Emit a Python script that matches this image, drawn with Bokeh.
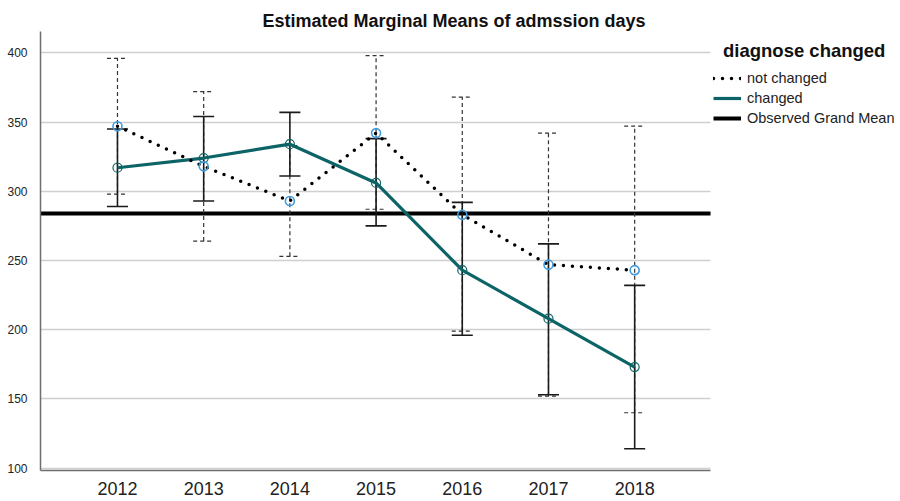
from bokeh.plotting import figure
from bokeh.models import Range1d, FixedTicker, Legend, LegendItem, ColumnDataSource, Label
from bokeh.embed import file_html
from bokeh.resources import INLINE

# ---- data ----
years = [2012, 2013, 2014, 2015, 2016, 2017, 2018]
not_changed = [347, 318, 293, 342, 283, 247, 243]
not_changed_lo = [298, 264, 253, 287, 199, 152, 140]
not_changed_hi = [396, 372, 333, 398, 368, 342, 347]
changed = [317, 324, 334, 306, 243, 208, 173]
changed_lo = [289, 293, 311, 275, 196, 153, 114]
changed_hi = [345, 354, 357, 338, 292, 262, 232]
grand_mean = 284
y_ticks = [100, 150, 200, 250, 300, 350, 400]

FONT = "Liberation Sans"
TEAL = "#0d6466"
BLUE = "#3d9be0"

# plotting area spans x0..x_plot_end; the frame extends further right to hold the legend
x0, x_plot_end = 2011.107, 2018.88
px_per_x = 86.2
x_frame_end = x0 + (900 - 40) / px_per_x
y0, y1 = 98.3, 415.4
px_per_y = 1.383

def dx(px):  # page px -> data x
    return x0 + (px - 40) / px_per_x
def dy(py):  # page py -> data y
    return 400 + (52.3 - py) / px_per_y

p = figure(width=900, height=501, output_backend="svg", toolbar_location=None,
           x_range=Range1d(x0, x_frame_end), y_range=Range1d(y0, y1),
           min_border_left=40, min_border_right=0, min_border_top=31, min_border_bottom=31)
p.outline_line_color = None
p.background_fill_color = "white"

# title (left-aligned with an offset so it is centred on the page)
p.title.text = "Estimated Marginal Means of admssion days"
p.title.text_font = FONT
p.title.text_font_style = "bold"
p.title.text_font_size = "18px"
p.title.text_color = "#111111"
p.title.align = "left"
p.title.offset = 222
p.title.standoff = 2

# axes
p.xaxis.ticker = FixedTicker(ticks=years)
p.yaxis.ticker = FixedTicker(ticks=y_ticks)
p.xaxis.bounds = (x0, x_plot_end)
for ax in (p.xaxis[0], p.yaxis[0]):
    ax.major_tick_line_color = None
    ax.minor_tick_line_color = None
    ax.axis_line_color = "#6e6e6e"
    ax.axis_line_width = 1.5
    ax.major_label_text_font = FONT
    ax.major_label_text_color = "#222222"
p.xaxis.major_label_text_font_size = "18px"
p.xaxis.major_label_standoff = 5
p.yaxis.major_label_text_font_size = "12px"
p.yaxis.major_label_standoff = 7
p.xgrid.grid_line_color = None
p.ygrid.grid_line_color = "#cfcfcf"
p.ygrid.grid_line_width = 1.5
p.ygrid.cross_bounds = (x0, x_plot_end)

cap = 0.122
src_nc = ColumnDataSource(dict(x=years, y=not_changed, lo=not_changed_lo, hi=not_changed_hi,
                               xl=[v - cap for v in years], xr=[v + cap for v in years]))
src_ch = ColumnDataSource(dict(x=years, y=changed, lo=changed_lo, hi=changed_hi,
                               xl=[v - cap for v in years], xr=[v + cap for v in years]))

# grand mean line
gm = p.line(x=[x0, x_plot_end], y=[grand_mean, grand_mean], line_color="black", line_width=4)

# error bars: not changed (dashed), changed (solid)
for src, kw in ((src_nc, dict(line_color="#333333", line_width=1.2, line_dash="4 3")),
                (src_ch, dict(line_color="#1a1a1a", line_width=1.6))):
    p.segment(x0="x", y0="lo", x1="x", y1="hi", source=src, **kw)
    p.segment(x0="xl", y0="lo", x1="xr", y1="lo", source=src, **kw)
    p.segment(x0="xl", y0="hi", x1="xr", y1="hi", source=src, **kw)

# lines
ch_line = p.line(x="x", y="y", source=src_ch, line_color=TEAL, line_width=3.2)
nc_line = p.line(x="x", y="y", source=src_nc, line_color="black", line_width=3.5,
                 line_dash="0 9", line_cap="round")

# markers
p.scatter(x="x", y="y", source=src_ch, marker="circle", size=9, fill_color=None,
          line_color=TEAL, line_width=1.2)
p.scatter(x="x", y="y", source=src_nc, marker="circle", size=9, fill_color=None,
          line_color=BLUE, line_width=1.6)

# legend title and legend
p.add_layout(Label(x=dx(722.5), y=dy(49.5), text="diagnose changed",
                   text_font=FONT, text_font_style="bold", text_font_size="18.5px",
                   text_align="left", text_baseline="middle", text_color="#111111"))

legend = Legend(items=[LegendItem(label="not changed", renderers=[nc_line]),
                       LegendItem(label="changed", renderers=[ch_line]),
                       LegendItem(label="Observed Grand Mean", renderers=[gm])],
                location=(673, 342), orientation="vertical",
                border_line_color=None, background_fill_alpha=0,
                padding=0, margin=0, spacing=0,
                glyph_width=28, glyph_height=20, label_height=20, label_standoff=6,
                label_text_font=FONT, label_text_font_size="14.5px",
                label_text_color="#222222")
p.add_layout(legend)

open("out.html", "w").write(file_html(p, INLINE))
